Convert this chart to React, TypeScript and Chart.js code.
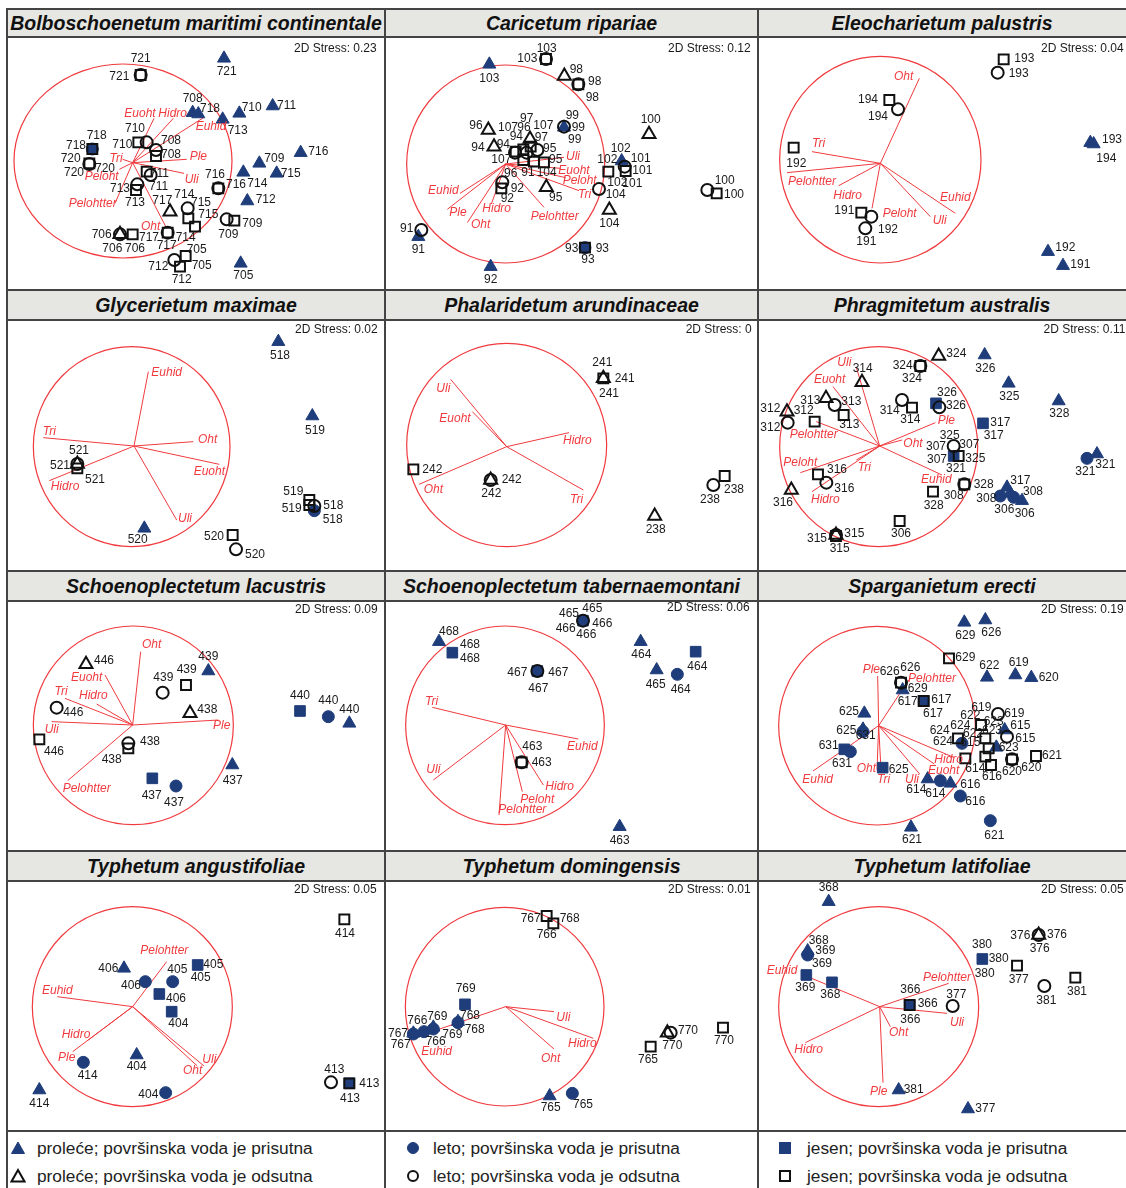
import React, { useEffect, useRef } from "react";
import { Chart, registerables } from "chart.js";
Chart.register(...registerables);

type Pt = [string, number, number];
type Lab = [string, number, number];
type Vec = [string, number, number, number, number];

const NAVY = "#1f3d7a";
const RED = "#f03a3e";
const FONT = '"Liberation Sans", Arial, sans-serif';

// ---------- panel 1: Bolboschoenetum maritimi continentale ----------
const p1Origin = [398, 488];
const p1Circle = [369, 483, 327, 291];
const p1Vectors: Vec[] = [
  ["Euoht", 462, 355, 420, 340], ["Hidro", 520, 355, 518, 340], ["Euhid", 612, 352, 633, 380],
  ["Ple", 560, 478, 595, 470], ["Uli", 552, 520, 575, 540], ["Tri", 368, 478, 348, 475],
  ["Peloht", 358, 508, 305, 530], ["Pelohtter", 345, 610, 278, 610], ["Oht", 500, 685, 452, 680],
];
const p1Points: Pt[] = [
  ["c", 422, 225], ["b", 422, 225], ["A", 672, 175],
  ["A", 578, 338], ["A", 595, 342], ["A", 668, 358], ["A", 718, 340], ["A", 818, 318],
  ["B", 277, 447], ["c", 277, 447], ["b", 268, 492], ["c", 268, 490],
  ["c", 415, 427], ["b", 440, 427], ["b", 468, 450], ["c", 468, 468],
  ["c", 440, 515], ["b", 452, 525], ["b", 412, 553], ["c", 408, 570],
  ["b", 655, 565], ["c", 655, 565],
  ["A", 902, 458], ["A", 778, 490], ["A", 730, 517], ["A", 830, 520], ["A", 742, 603],
  ["a", 510, 635], ["b", 563, 625], ["c", 565, 655], ["c", 585, 680],
  ["b", 503, 698], ["c", 503, 698], ["a", 360, 703], ["b", 360, 703], ["c", 398, 703],
  ["b", 680, 658], ["c", 703, 662], ["c", 557, 768], ["b", 523, 780], ["c", 540, 800],
  ["A", 722, 790],
];
const p1Labels: Lab[] = [
  ["721", 422, 175], ["721", 358, 230], ["721", 680, 215],
  ["708", 578, 295], ["718", 630, 325], ["713", 713, 392], ["710", 755, 322], ["711", 860, 318],
  ["718", 290, 408], ["718", 228, 438], ["720", 212, 477], ["720", 315, 505], ["720", 222, 518],
  ["710", 405, 385], ["710", 367, 433], ["708", 513, 423], ["708", 513, 463],
  ["711", 478, 522], ["711", 476, 560], ["713", 360, 565], ["713", 405, 607],
  ["716", 645, 523], ["716", 708, 553], ["716", 955, 456], ["709", 823, 477], ["714", 772, 550],
  ["715", 872, 520], ["712", 797, 600], ["717", 487, 602], ["714", 553, 585], ["715", 603, 608],
  ["715", 625, 643], ["714", 557, 712], ["717", 447, 713], ["717", 500, 738],
  ["706", 305, 705], ["706", 337, 745], ["706", 405, 745], ["709", 757, 672], ["709", 685, 705],
  ["705", 590, 750], ["705", 605, 798], ["712", 475, 800], ["712", 545, 838], ["705", 730, 827],
];

// ---------- panel 2: Caricetum ripariae ----------
const p2Origin = [365, 492];
const p2Circle = [365, 492, 297, 297];
const p2Vectors: Vec[] = [
  ["Uli", 540, 472, 567, 470], ["Euoht", 530, 505, 570, 512], ["Peloht", 545, 533, 587, 543],
  ["Tri", 585, 572, 602, 585], ["Pelohtter", 480, 622, 512, 650], ["Hidro", 322, 612, 338, 625],
  ["Oht", 250, 668, 290, 675], ["Ple", 190, 628, 222, 637], ["Euhid", 228, 580, 178, 573],
];
const p2Points: Pt[] = [
  ["c", 486, 177], ["b", 486, 177], ["A", 316, 193], ["a", 541, 228], ["b", 583, 253], ["c", 583, 253],
  ["A", 540, 382], ["b", 540, 380], ["a", 795, 403], ["a", 313, 390], ["a", 330, 440], ["a", 438, 417],
  ["c", 395, 455], ["b", 393, 458], ["c", 418, 448], ["b", 428, 458], ["c", 440, 440], ["b", 460, 450],
  ["c", 418, 480], ["c", 450, 485], ["c", 480, 487],
  ["A", 713, 483], ["b", 722, 500], ["c", 725, 513], ["c", 673, 515], ["b", 645, 567], ["a", 676, 630],
  ["a", 487, 562], ["b", 355, 547], ["c", 352, 565], ["b", 970, 570], ["c", 998, 580],
  ["b", 112, 690], ["A", 103, 710], ["B", 603, 743], ["c", 603, 743], ["A", 320, 800],
];
const p2Labels: Lab[] = [
  ["103", 488, 145], ["103", 430, 175], ["103", 316, 237], ["98", 577, 210], ["98", 632, 245], ["98", 625, 293],
  ["99", 565, 347], ["99", 583, 383], ["99", 572, 420], ["100", 800, 360],
  ["96", 276, 377], ["107", 372, 383], ["96", 420, 383], ["97", 428, 355], ["107", 478, 377],
  ["94", 282, 443], ["94", 397, 410], ["97", 472, 413], ["94", 358, 433], ["95", 497, 445], ["95", 515, 478],
  ["107", 352, 480], ["96", 380, 520], ["91", 432, 518], ["104", 488, 517],
  ["102", 710, 445], ["101", 770, 475], ["101", 775, 512], ["102", 670, 480], ["102", 700, 548], ["101", 745, 550],
  ["104", 695, 583], ["104", 676, 670], ["95", 515, 592], ["92", 400, 567], ["92", 370, 597],
  ["100", 1022, 543], ["100", 1050, 583], ["91", 68, 687], ["91", 103, 748],
  ["93", 563, 745], ["93", 655, 745], ["93", 612, 780], ["92", 320, 838],
];

// ---------- panel 3: Eleocharietum palustris ----------
const p3Origin = [370, 490];
const p3Circle = [370, 479, 302, 310];
const p3Vectors: Vec[] = [
  ["Oht", 487, 235, 440, 230], ["Tri", 165, 455, 185, 430], ["Pelohtter", 90, 518, 165, 545],
  ["Hidro", 245, 557, 272, 588], ["Peloht", 345, 625, 428, 642], ["Uli", 520, 650, 548, 663],
  ["Euhid", 595, 640, 595, 592],
];
const p3Points: Pt[] = [
  ["c", 740, 178], ["b", 722, 218], ["c", 397, 300], ["b", 423, 328], ["c", 110, 443],
  ["c", 313, 638], ["b", 343, 650], ["b", 325, 685], ["A", 1000, 428], ["A", 1010, 432],
  ["A", 873, 755], ["A", 918, 797],
];
const p3Labels: Lab[] = [
  ["193", 802, 175], ["193", 785, 222], ["194", 333, 300], ["194", 363, 350], ["192", 118, 490],
  ["191", 262, 632], ["192", 393, 688], ["191", 328, 725], ["193", 1065, 420], ["194", 1048, 477],
  ["192", 925, 742], ["191", 970, 795],
];

// ---------- panel 4: Glycerietum maximae ----------
const p4Origin = [402, 468];
const p4Circle = [395, 470, 295, 300];
const p4Vectors: Vec[] = [
  ["Euhid", 445, 245, 500, 248], ["Tri", 130, 443, 148, 425], ["Oht", 580, 455, 623, 450],
  ["Euoht", 658, 523, 628, 545], ["Uli", 530, 690, 555, 685], ["Hidro", 148, 572, 195, 590],
];
const p4Points: Pt[] = [
  ["A", 835, 155], ["A", 937, 378], ["b", 232, 522], ["a", 232, 522], ["c", 232, 535],
  ["c", 928, 630], ["c", 928, 645], ["B", 943, 662], ["b", 943, 648], ["A", 433, 715],
  ["c", 698, 735], ["b", 708, 778],
];
const p4Labels: Lab[] = [
  ["518", 840, 198], ["519", 945, 422], ["521", 237, 482], ["521", 180, 528], ["521", 285, 570],
  ["519", 880, 605], ["519", 875, 657], ["518", 1000, 648], ["518", 998, 690],
  ["520", 413, 750], ["520", 642, 740], ["520", 765, 795],
];

// ---------- panel 5: Phalaridetum arundinaceae ----------
const p5Origin = [368, 470];
const p5Circle = [368, 465, 300, 305];
const p5Vectors: Vec[] = [
  ["Uli", 200, 268, 178, 295], ["Euoht", 265, 365, 213, 385], ["Hidro", 555, 428, 580, 452],
  ["Tri", 598, 600, 578, 630], ["Oht", 105, 583, 148, 600],
];
const p5Points: Pt[] = [
  ["c", 658, 265], ["a", 658, 265], ["c", 88, 538], ["b", 320, 570], ["a", 320, 570],
  ["b", 988, 585], ["c", 1022, 558], ["a", 812, 678],
];
const p5Labels: Lab[] = [
  ["241", 655, 218], ["241", 722, 265], ["241", 675, 310], ["242", 145, 538], ["242", 383, 570],
  ["242", 322, 612], ["238", 1050, 598], ["238", 978, 628], ["238", 815, 718],
];

// ---------- panel 6: Phragmitetum australis ----------
const p6Origin = [368, 468];
const p6Circle = [365, 470, 297, 300];
const p6Vectors: Vec[] = [
  ["Uli", 298, 232, 262, 218], ["Euoht", 228, 290, 218, 270], ["Pelohtter", 178, 395, 170, 435],
  ["Ple", 535, 398, 568, 393], ["Oht", 435, 450, 468, 460], ["Euhid", 555, 555, 538, 570],
  ["Tri", 298, 510, 322, 533], ["Peloht", 130, 548, 130, 517], ["Hidro", 165, 605, 205, 628],
];
const p6Points: Pt[] = [
  ["a", 545, 198], ["b", 490, 228], ["c", 490, 228], ["A", 683, 195], ["A", 755, 280], ["A", 905, 333],
  ["a", 315, 277], ["a", 207, 325], ["b", 233, 345], ["c", 260, 375], ["a", 90, 365], ["b", 92, 398],
  ["c", 173, 395], ["b", 435, 330], ["c", 465, 353], ["C", 537, 340], ["b", 547, 352], ["C", 678, 400],
  ["b", 590, 468], ["C", 590, 498], ["c", 605, 498], ["b", 622, 583], ["c", 622, 583], ["c", 528, 605],
  ["c", 183, 553], ["b", 208, 578], ["a", 103, 600], ["c", 428, 693],
  ["a", 237, 735], ["b", 237, 735], ["c", 237, 738], ["B", 990, 505], ["A", 1020, 492],
  ["A", 750, 592], ["B", 730, 618], ["B", 770, 622], ["A", 795, 632], ["A", 760, 610],
];
const p6Labels: Lab[] = [
  ["324", 598, 190], ["324", 437, 228], ["324", 465, 265], ["326", 685, 235], ["325", 757, 320], ["328", 907, 372],
  ["314", 317, 235], ["313", 160, 333], ["313", 283, 335], ["313", 277, 405],
  ["312", 40, 355], ["312", 140, 362], ["312", 40, 413], ["314", 398, 362], ["314", 460, 390],
  ["326", 570, 308], ["326", 597, 347], ["317", 730, 398], ["317", 710, 438],
  ["325", 578, 437], ["307", 637, 465], ["307", 537, 470], ["307", 540, 508], ["325", 655, 505], ["321", 597, 537],
  ["328", 680, 583], ["308", 590, 617], ["328", 530, 648], ["316", 240, 538], ["316", 262, 597], ["316", 78, 637],
  ["306", 432, 732], ["315", 180, 745], ["315", 292, 730], ["315", 248, 777], ["321", 985, 545], ["321", 1045, 523],
  ["317", 790, 573], ["308", 688, 625], ["306", 742, 658], ["306", 803, 672], ["308", 828, 605],
];

// ---------- panel 7: Schoenoplectetum lacustris ----------
const p7Origin = [398, 465];
const p7Circle = [400, 466, 300, 298];
const p7Vectors: Vec[] = [
  ["Oht", 422, 245, 455, 225], ["Euoht", 315, 315, 260, 323], ["Tri", 195, 385, 183, 366],
  ["Hidro", 290, 402, 280, 378], ["Uli", 155, 455, 155, 480], ["Ple", 655, 450, 665, 468],
  ["Pelohtter", 203, 632, 260, 657],
];
const p7Points: Pt[] = [
  ["a", 258, 283], ["b", 170, 413], ["c", 118, 508], ["b", 488, 368], ["c", 558, 345], ["A", 625, 303],
  ["a", 570, 430], ["b", 385, 520], ["c", 385, 535], ["C", 457, 625], ["B", 528, 648], ["A", 697, 585],
  ["C", 900, 423], ["B", 985, 440], ["A", 1048, 460],
];
const p7Labels: Lab[] = [
  ["446", 312, 273], ["446", 220, 428], ["446", 162, 545], ["439", 490, 322], ["439", 560, 298], ["439", 625, 260],
  ["438", 622, 420], ["438", 450, 515], ["438", 335, 570], ["437", 455, 678], ["437", 522, 698], ["437", 698, 633],
  ["440", 900, 378], ["440", 985, 393], ["440", 1048, 418],
];

// ---------- panel 8: Schoenoplectetum tabernaemontani ----------
const p8Origin = [365, 465];
const p8Circle = [363, 466, 298, 298];
const p8Vectors: Vec[] = [
  ["Tri", 145, 412, 143, 395], ["Euhid", 583, 507, 595, 530], ["Uli", 148, 630, 148, 600],
  ["Pelohtter", 345, 735, 415, 720], ["Peloht", 415, 665, 460, 688], ["Hidro", 478, 645, 527, 650],
];
const p8Points: Pt[] = [
  ["C", 597, 152], ["b", 597, 152], ["A", 165, 215], ["C", 205, 248], ["C", 460, 303], ["b", 460, 303],
  ["c", 413, 577], ["b", 413, 577], ["A", 707, 770], ["A", 770, 215], ["C", 935, 245], ["A", 818, 300],
  ["B", 880, 313],
];
const p8Labels: Lab[] = [
  ["465", 555, 130], ["465", 625, 115], ["466", 655, 160], ["466", 545, 175], ["466", 607, 193],
  ["468", 195, 185], ["468", 258, 225], ["468", 258, 265], ["467", 400, 307], ["467", 523, 307], ["467", 463, 355],
  ["463", 445, 530], ["463", 473, 578], ["463", 707, 812], ["464", 772, 255], ["464", 940, 290],
  ["465", 815, 343], ["464", 890, 358],
];

// ---------- panel 9: Sparganietum erecti ----------
const p9Origin = [365, 467];
const p9Circle = [360, 467, 295, 298];
const p9Vectors: Vec[] = [
  ["Ple", 362, 318, 343, 300], ["Pelohtter", 455, 330, 525, 325], ["Euhid", 168, 603, 182, 630],
  ["Oht", 360, 600, 328, 595], ["Tri", 372, 600, 380, 630], ["Uli", 488, 612, 465, 630],
  ["Euoht", 532, 582, 560, 603], ["Hidro", 590, 562, 575, 568],
];
const p9Points: Pt[] = [
  ["A", 622, 157], ["A", 685, 150], ["c", 576, 265], ["A", 690, 322], ["A", 775, 315], ["A", 823, 323],
  ["b", 432, 338], ["c", 432, 338], ["A", 437, 360], ["C", 500, 393], ["c", 500, 393],
  ["A", 322, 430], ["A", 318, 478], ["B", 318, 485], ["C", 262, 538], ["B", 280, 545], ["C", 377, 593],
  ["A", 512, 627], ["B", 550, 632], ["A", 580, 640], ["B", 610, 678], ["B", 700, 752], ["A", 462, 772],
  ["b", 723, 432], ["c", 672, 465], ["c", 603, 505], ["B", 615, 520], ["c", 685, 505], ["c", 695, 535],
  ["c", 685, 560], ["c", 702, 585], ["b", 750, 500], ["A", 743, 480], ["A", 718, 532], ["c", 625, 565],
  ["b", 765, 568], ["c", 765, 568], ["c", 837, 558],
];
const p9Labels: Lab[] = [
  ["629", 625, 198], ["626", 703, 187], ["629", 625, 263], ["622", 697, 288], ["619", 785, 278], ["620", 875, 322],
  ["626", 398, 305], ["626", 460, 293], ["629", 482, 355], ["617", 452, 395], ["617", 553, 390], ["617", 528, 432],
  ["625", 276, 425], ["625", 268, 482], ["631", 215, 528], ["631", 326, 498], ["631", 255, 580], ["625", 425, 600],
  ["614", 478, 660], ["614", 535, 672], ["616", 640, 643], ["616", 655, 695], ["621", 712, 797], ["621", 465, 810],
  ["619", 673, 412], ["619", 772, 432], ["622", 640, 437], ["623", 710, 455], ["624", 610, 468], ["624", 548, 482],
  ["624", 558, 515], ["622", 648, 492], ["615", 790, 468], ["615", 805, 505], ["623", 755, 532], ["615", 640, 517],
  ["614", 655, 597], ["616", 705, 620], ["620", 765, 605], ["620", 823, 592], ["621", 885, 558], ["623", 705, 483],
];

// ---------- panel 10: Typhetum angustifoliae ----------
const p10Origin = [398, 470];
const p10Circle = [397, 470, 300, 300];
const p10Vectors: Vec[] = [
  ["Pelohtter", 500, 335, 493, 302], ["Euhid", 172, 440, 172, 423], ["Hidro", 265, 570, 228, 553],
  ["Ple", 218, 605, 200, 623], ["Uli", 612, 648, 628, 628], ["Oht", 592, 648, 578, 662],
];
const p10Points: Pt[] = [
  ["c", 1033, 208], ["A", 372, 355], ["B", 436, 395], ["B", 518, 395], ["C", 593, 345], ["C", 478, 432],
  ["C", 515, 485], ["B", 250, 637], ["A", 410, 615], ["B", 497, 728], ["A", 118, 720],
  ["b", 993, 697], ["C", 1048, 700], ["c", 1048, 700],
];
const p10Labels: Lab[] = [
  ["414", 1035, 250], ["406", 325, 355], ["406", 393, 408], ["405", 532, 360], ["405", 640, 345], ["405", 602, 383],
  ["406", 528, 445], ["404", 535, 520], ["414", 263, 677], ["404", 410, 650], ["404", 445, 733], ["414", 118, 760],
  ["413", 1003, 658], ["413", 1108, 700], ["413", 1050, 745],
];

// ---------- panel 11: Typhetum domingensis ----------
const p11Origin = [365, 470];
const p11Circle = [362, 470, 298, 298];
const p11Vectors: Vec[] = [
  ["Uli", 510, 485, 538, 503], ["Hidro", 628, 565, 595, 580], ["Oht", 510, 597, 500, 627],
  ["Euhid", 90, 563, 158, 605],
];
const p11Points: Pt[] = [
  ["c", 488, 198], ["c", 508, 220], ["C", 243, 463], ["B", 222, 518], ["A", 222, 515],
  ["B", 148, 537], ["A", 148, 532], ["B", 120, 545], ["B", 88, 552], ["A", 88, 550],
  ["b", 860, 548], ["a", 850, 548], ["c", 800, 590], ["c", 1017, 533], ["A", 497, 738], ["B", 565, 730],
];
const p11Labels: Lab[] = [
  ["767", 440, 205], ["768", 557, 205], ["766", 488, 253], ["769", 245, 417], ["768", 258, 497], ["768", 272, 540],
  ["769", 160, 500], ["766", 100, 512], ["767", 42, 550], ["767", 50, 585], ["766", 155, 575], ["769", 205, 553],
  ["770", 912, 542], ["770", 865, 587], ["765", 792, 630], ["770", 1020, 573], ["765", 500, 773], ["765", 597, 765],
];

// ---------- panel 12: Typhetum latifoliae ----------
const p12Origin = [368, 470];
const p12Circle = [365, 470, 300, 300];
const p12Vectors: Vec[] = [
  ["Euhid", 140, 375, 75, 362], ["Pelohtter", 575, 400, 570, 382], ["Hidro", 145, 578, 155, 598],
  ["Uli", 570, 490, 600, 517], ["Oht", 400, 530, 425, 548], ["Ple", 378, 698, 365, 725],
];
const p12Points: Pt[] = [
  ["A", 215, 155], ["B", 152, 315], ["A", 152, 303], ["C", 148, 375], ["C", 225, 397], ["C", 676, 327],
  ["a", 845, 255], ["b", 845, 255], ["c", 780, 347], ["b", 862, 408], ["c", 955, 383],
  ["C", 458, 465], ["c", 458, 465], ["b", 587, 468], ["A", 425, 720], ["A", 633, 777],
];
const p12Labels: Lab[] = [
  ["368", 215, 113], ["368", 185, 272], ["369", 205, 303], ["369", 195, 340], ["369", 145, 412], ["368", 220, 435],
  ["380", 675, 283], ["380", 725, 327], ["380", 683, 372], ["376", 790, 257], ["376", 900, 253], ["376", 848, 295],
  ["377", 785, 388], ["381", 868, 452], ["381", 960, 425], ["366", 460, 420], ["366", 512, 462], ["366", 460, 508],
  ["377", 598, 433], ["381", 470, 718], ["377", 685, 777],
];

const TITLES = [
  "Bolboschoenetum maritimi continentale", "Caricetum ripariae", "Eleocharietum palustris",
  "Glycerietum maximae", "Phalaridetum arundinaceae", "Phragmitetum australis",
  "Schoenoplectetum lacustris", "Schoenoplectetum tabernaemontani", "Sparganietum erecti",
  "Typhetum angustifoliae", "Typhetum domingensis", "Typhetum latifoliae",
];
const STRESS = ["0.23", "0.12", "0.04", "0.02", "0", "0.11", "0.09", "0.06", "0.19", "0.05", "0.01", "0.05"];
const STRESS_POS = [
  [1130, 145], [1100, 145], [1100, 145], [1133, 118], [1103, 118], [1105, 118],
  [1133, 118], [1097, 113], [1100, 118], [1130, 120], [1100, 120], [1100, 120],
];
const LEGEND = [
  ["A", "proleće; površinska voda je prisutna"], ["a", "proleće; površinska voda je odsutna"],
  ["B", "leto; površinska voda je prisutna"], ["b", "leto; površinska voda je odsutna"],
  ["C", "jesen; površinska voda je prisutna"], ["c", "jesen; površinska voda je odsutna"],
];

const PANELS = [
  { o: p1Origin, c: p1Circle, v: p1Vectors, p: p1Points, l: p1Labels },
  { o: p2Origin, c: p2Circle, v: p2Vectors, p: p2Points, l: p2Labels },
  { o: p3Origin, c: p3Circle, v: p3Vectors, p: p3Points, l: p3Labels },
  { o: p4Origin, c: p4Circle, v: p4Vectors, p: p4Points, l: p4Labels },
  { o: p5Origin, c: p5Circle, v: p5Vectors, p: p5Points, l: p5Labels },
  { o: p6Origin, c: p6Circle, v: p6Vectors, p: p6Points, l: p6Labels },
  { o: p7Origin, c: p7Circle, v: p7Vectors, p: p7Points, l: p7Labels },
  { o: p8Origin, c: p8Circle, v: p8Vectors, p: p8Points, l: p8Labels },
  { o: p9Origin, c: p9Circle, v: p9Vectors, p: p9Points, l: p9Labels },
  { o: p10Origin, c: p10Circle, v: p10Vectors, p: p10Points, l: p10Labels },
  { o: p11Origin, c: p11Circle, v: p11Vectors, p: p11Points, l: p11Labels },
  { o: p12Origin, c: p12Circle, v: p12Vectors, p: p12Points, l: p12Labels },
];

// layout (pixels)
const COL_X = [8, 386, 759];
const COL_W = [377, 372, 367];
const ROW_Y = [38, 321, 602, 882];
const ROW_H = [252, 250, 249, 249];
const X_RANGE = [[24, 1155], [6, 1122], [6, 1107]];
const Y_RANGE = [[114, 870], [93, 843], [96, 843], [96, 843]];
const TITLE_TOP = [9, 290, 571, 851];
const TITLE_BOTTOM = [37, 320, 601, 881];

const STYLES: Record<string, any> = {
  A: { pointStyle: "triangle", radius: 7.5, fill: NAVY, stroke: NAVY, bw: 1, order: 5 },
  B: { pointStyle: "circle", radius: 6, fill: NAVY, stroke: NAVY, bw: 1, order: 5 },
  C: { pointStyle: "rect", radius: 7.5, fill: NAVY, stroke: NAVY, bw: 1, order: 5 },
  a: { pointStyle: "triangle", radius: 7.5, fill: "rgba(0,0,0,0)", stroke: "#111", bw: 2, order: 1 },
  b: { pointStyle: "circle", radius: 6, fill: "rgba(0,0,0,0)", stroke: "#111", bw: 2, order: 1 },
  c: { pointStyle: "rect", radius: 7, fill: "rgba(0,0,0,0)", stroke: "#111", bw: 2, order: 1 },
};

function Panel({ idx }: { idx: number }) {
  const ref = useRef<HTMLCanvasElement>(null);
  const col = idx % 3;
  const row = Math.floor(idx / 3);
  const w = COL_W[col];
  const h = ROW_H[row];
  useEffect(() => {
    const P = PANELS[idx];
    const datasets: any[] = [];
    P.v.forEach((v) => {
      datasets.push({
        data: [{ x: P.o[0], y: P.o[1] }, { x: v[1], y: v[2] }],
        showLine: true, borderColor: RED, borderWidth: 1, pointRadius: 0, order: 10,
      });
    });
    ["A", "B", "C", "a", "b", "c"].forEach((t) => {
      const s = STYLES[t];
      datasets.push({
        data: P.p.filter((q) => q[0] === t).map((q) => ({ x: q[1], y: q[2] })),
        pointStyle: s.pointStyle, pointRadius: s.radius, backgroundColor: s.fill,
        borderColor: s.stroke, pointBorderWidth: s.bw, borderWidth: s.bw, order: s.order, showLine: false,
      });
    });
    const plugin = {
      id: "nmds" + idx,
      beforeDatasetsDraw(chart: any) {
        const { ctx, scales } = chart;
        const x = scales.x, y = scales.y;
        const c = P.c;
        const cx = x.getPixelForValue(c[0]);
        const cy = y.getPixelForValue(c[1]);
        const rx = Math.abs(x.getPixelForValue(c[0] + c[2]) - cx);
        const ry = Math.abs(y.getPixelForValue(c[1] + c[3]) - cy);
        ctx.save();
        ctx.beginPath();
        ctx.ellipse(cx, cy, rx, ry, 0, 0, Math.PI * 2);
        ctx.strokeStyle = RED;
        ctx.lineWidth = 1.2;
        ctx.stroke();
        ctx.restore();
      },
      afterDatasetsDraw(chart: any) {
        const { ctx, scales } = chart;
        const x = scales.x, y = scales.y;
        ctx.save();
        ctx.textAlign = "center";
        ctx.textBaseline = "middle";
        ctx.font = `italic 12px ${FONT}`;
        ctx.fillStyle = RED;
        P.v.forEach((v) => ctx.fillText(v[0], x.getPixelForValue(v[3]), y.getPixelForValue(v[4])));
        ctx.font = `12px ${FONT}`;
        ctx.fillStyle = "#1a1a1a";
        P.l.forEach((l) => ctx.fillText(l[0], x.getPixelForValue(l[1]), y.getPixelForValue(l[2])));
        ctx.textAlign = "right";
        const sp = STRESS_POS[idx];
        ctx.fillText("2D Stress: " + STRESS[idx], x.getPixelForValue(sp[0]), y.getPixelForValue(sp[1]));
        ctx.restore();
      },
    };
    const chart = new Chart(ref.current as HTMLCanvasElement, {
      type: "scatter",
      data: { datasets },
      options: {
        responsive: false,
        maintainAspectRatio: false,
        animation: false,
        events: [],
        layout: { padding: 0, autoPadding: false },
        plugins: { legend: { display: false }, tooltip: { enabled: false } },
        scales: {
          x: { type: "linear", display: false, min: X_RANGE[col][0], max: X_RANGE[col][1] },
          y: { type: "linear", display: false, min: Y_RANGE[row][0], max: Y_RANGE[row][1], reverse: true },
        },
      } as any,
      plugins: [plugin],
    });
    return () => chart.destroy();
  }, [idx]);
  return (
    <canvas
      ref={ref}
      width={w}
      height={h}
      style={{ position: "absolute", left: COL_X[col], top: ROW_Y[row], width: w, height: h }}
    />
  );
}

function Marker({ t }: { t: string }) {
  const filled = t === t.toUpperCase();
  const fill = filled ? NAVY : "none";
  const stroke = filled ? NAVY : "#111";
  const sw = filled ? 1 : 2;
  const k = t.toUpperCase();
  return (
    <svg width={16} height={16} style={{ position: "absolute", left: -8, top: -8 }}>
      {k === "A" && <polygon points="8,2 14.5,13.5 1.5,13.5" fill={fill} stroke={stroke} strokeWidth={sw} strokeLinejoin="miter" />}
      {k === "B" && <circle cx={8} cy={8} r={filled ? 5.5 : 5} fill={fill} stroke={stroke} strokeWidth={sw} />}
      {k === "C" && <rect x={filled ? 2.5 : 3} y={filled ? 2.5 : 3} width={filled ? 11 : 10} height={filled ? 11 : 10} fill={fill} stroke={stroke} strokeWidth={sw} />}
    </svg>
  );
}

export default function App() {
  const hLines = [9, 37, 290, 320, 571, 601, 851, 881, 1131];
  const vLines = [7, 385, 758];
  const legendMarkerX = [18, 413, 785];
  const legendTextX = [37, 433, 807];
  const legendY = [1148, 1176];
  return (
    <div style={{ position: "absolute", left: 0, top: 0, width: 1126, height: 1188, background: "#fff", overflow: "hidden", fontFamily: FONT }}>
      {TITLE_TOP.map((t, r) => (
        <div key={"tb" + r} style={{ position: "absolute", left: 7, top: t, width: 1119, height: TITLE_BOTTOM[r] - t, background: "#e6e6e2" }} />
      ))}
      {TITLES.map((title, i) => {
        const col = i % 3, row = Math.floor(i / 3);
        const left = col === 0 ? 7 : col === 1 ? 385 : 758;
        const right = col === 0 ? 385 : col === 1 ? 758 : 1126;
        return (
          <div key={"t" + i} style={{
            position: "absolute", left, top: TITLE_TOP[row], width: right - left, height: TITLE_BOTTOM[row] - TITLE_TOP[row],
            display: "flex", alignItems: "center", justifyContent: "center",
            fontWeight: "bold", fontStyle: "italic", fontSize: 19.5, color: "#111", whiteSpace: "nowrap",
          }}>{title}</div>
        );
      })}
      {PANELS.map((_, i) => <Panel key={i} idx={i} />)}
      {hLines.map((y) => (
        <div key={"h" + y} style={{ position: "absolute", left: 7, top: y - 1, width: 1119, height: 2, background: "#444" }} />
      ))}
      {vLines.map((x) => (
        <div key={"v" + x} style={{ position: "absolute", left: x - 1, top: 8, width: 2, height: 1180, background: "#444" }} />
      ))}
      {LEGEND.map((item, i) => {
        const col = Math.floor(i / 2), r = i % 2;
        return (
          <React.Fragment key={"lg" + i}>
            <div style={{ position: "absolute", left: legendMarkerX[col], top: legendY[r] }}>
              <Marker t={item[0]} />
            </div>
            <div style={{ position: "absolute", left: legendTextX[col], top: legendY[r] - 11, fontSize: 17.3, lineHeight: "22px", color: "#222", whiteSpace: "nowrap" }}>
              {item[1]}
            </div>
          </React.Fragment>
        );
      })}
    </div>
  );
}
